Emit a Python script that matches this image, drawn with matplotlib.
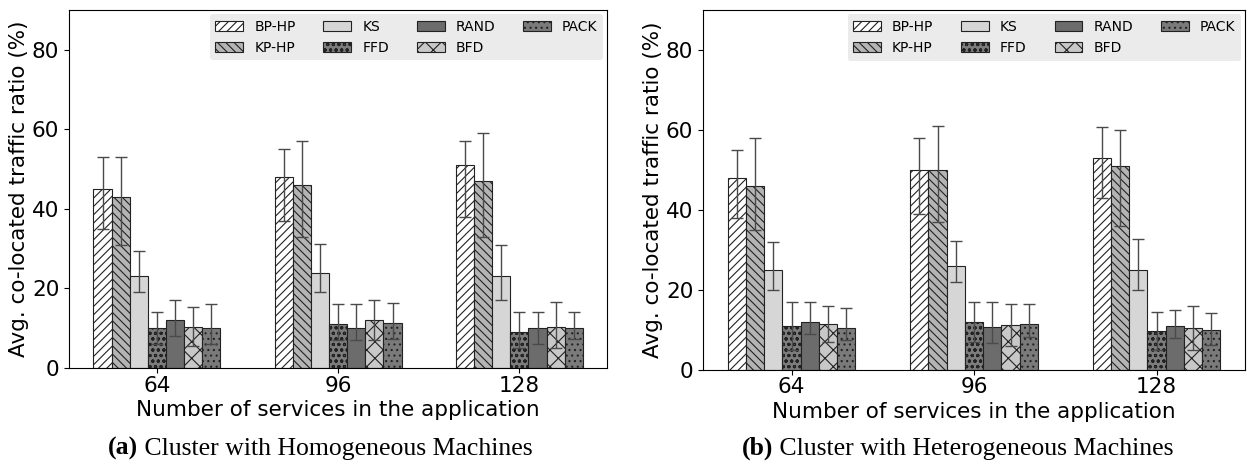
import numpy as np
import matplotlib
matplotlib.use('Agg')
import matplotlib.pyplot as plt
from matplotlib.patches import Patch

# dati
groups = ['64', '96', '128']
methods = ['BP-HP', 'KP-HP', 'KS', 'FFD', 'RAND', 'BFD', 'PACK']

# (a) macchine omogenee: valore medio, estremi inferiore/superiore delle barre d'errore
homo_mean = {
    'BP-HP': [45, 48, 51],
    'KP-HP': [43, 46, 47],
    'KS': [23, 24, 23],
    'FFD': [10, 11, 9],
    'RAND': [12, 10, 10],
    'BFD': [10.3, 12, 10.4],
    'PACK': [10.1, 11.2, 10.1],
}
homo_low = {
    'BP-HP': [35, 37, 38],
    'KP-HP': [31, 33, 33],
    'KS': [19, 19, 17],
    'FFD': [6, 7, 5],
    'RAND': [8, 7, 6],
    'BFD': [5.5, 7, 5],
    'PACK': [6, 7.2, 7.2],
}
homo_high = {
    'BP-HP': [53, 55, 57],
    'KP-HP': [53, 57, 59],
    'KS': [29.3, 31.2, 31],
    'FFD': [14, 16, 14],
    'RAND': [17, 16, 14],
    'BFD': [15.3, 17, 16.5],
    'PACK': [16, 16.3, 14.2],
}

# (b) macchine eterogenee
hetero_mean = {
    'BP-HP': [48, 50, 53],
    'KP-HP': [46, 50, 51],
    'KS': [25, 26, 25],
    'FFD': [11, 12, 9.8],
    'RAND': [12, 10.8, 10.9],
    'BFD': [11.5, 11.2, 10.4],
    'PACK': [10.5, 11.4, 10],
}
hetero_low = {
    'BP-HP': [38, 39, 43],
    'KP-HP': [35, 37, 36],
    'KS': [20, 22, 20],
    'FFD': [5, 7, 5],
    'RAND': [9, 6.8, 7.9],
    'BFD': [7, 6, 5],
    'PACK': [7.5, 8.2, 6.3],
}
hetero_high = {
    'BP-HP': [55, 58, 60.7],
    'KP-HP': [58, 61, 60],
    'KS': [32, 32.3, 32.8],
    'FFD': [17, 17, 14.5],
    'RAND': [17, 17, 15],
    'BFD': [16, 16.5, 16],
    'PACK': [15.5, 16.5, 14.3],
}

STYLE = {
    'BP-HP': ('white', '////'),
    'KP-HP': ('#b4b4b4', '\\\\\\\\'),
    'KS': ('#d6d6d6', ''),
    'FFD': ('#7c7c7c', 'ooo'),
    'RAND': ('#6c6c6c', ''),
    'BFD': ('#c8c8c8', 'xx'),
    'PACK': ('#7a7a7a', '...'),
}

plt.rcParams['hatch.linewidth'] = 0.8
plt.rcParams['font.family'] = 'DejaVu Sans'
FS = 15.5


def draw_panel(ax, mean, low, high):
    x = np.arange(len(groups))
    w = 0.1
    for k, m in enumerate(methods):
        v = np.array(mean[m], dtype=float)
        lo = np.array(low[m], dtype=float)
        hi = np.array(high[m], dtype=float)
        color, hatch = STYLE[m]
        pos = x + (k - 3) * w
        ax.bar(pos, v, w, color=color, hatch=hatch, edgecolor='#222222',
               linewidth=0.8, label=m)
        ax.errorbar(pos, v, yerr=[v - lo, hi - v], fmt='none',
                    ecolor='#4a4a4a', elinewidth=1.0, capsize=4, capthick=1.0)
    ax.set_xticks(x)
    ax.set_xticklabels(groups, fontsize=FS)
    ax.set_ylim(0, 90)
    ax.set_yticks([0, 20, 40, 60, 80])
    ax.tick_params(axis='y', labelsize=FS)
    ax.tick_params(axis='x', pad=2)
    ax.set_xlabel('Number of services in the application', fontsize=FS, labelpad=3)
    ax.set_ylabel('Avg. co-located traffic ratio (%)', fontsize=FS, labelpad=2)
    handles = [Patch(facecolor=STYLE[m][0], hatch=STYLE[m][1], edgecolor='#222222',
                     linewidth=0.8, label=m) for m in methods]
    leg = ax.legend(handles=handles, ncol=4, loc='upper right', fontsize=10,
                    handlelength=2.0, handleheight=0.7, columnspacing=2.0,
                    handletextpad=0.8, frameon=True, borderaxespad=0.3)
    leg.get_frame().set_facecolor('#ebebeb')
    leg.get_frame().set_edgecolor('none')
    leg.get_frame().set_alpha(1.0)


fig = plt.figure(figsize=(12.52, 4.68), dpi=100)
ax1 = fig.add_axes([0.0551, 0.2137, 0.430, 0.765])
ax2 = fig.add_axes([0.5615, 0.2100, 0.433, 0.768])

draw_panel(ax1, homo_mean, homo_low, homo_high)
draw_panel(ax2, hetero_mean, hetero_low, hetero_high)

# didascalie: "(a)" in grassetto, resto normale
serif = ['Liberation Serif', 'DejaVu Serif']
fig.canvas.draw()
r = fig.canvas.get_renderer()
for xc, tag, txt in [(0.256, '(a)', ' Cluster with Homogeneous Machines'),
                     (0.765, '(b)', ' Cluster with Heterogeneous Machines')]:
    t1 = fig.text(xc, 0.028, tag, fontsize=18.5, family=serif, weight='bold',
                  ha='left')
    t2 = fig.text(xc, 0.028, txt, fontsize=18.5, family=serif, ha='left')
    b1 = t1.get_window_extent(r)
    b2 = t2.get_window_extent(r)
    total = (b1.width + b2.width) / fig.bbox.width
    start = xc - total / 2
    t1.set_x(start)
    t2.set_x(start + b1.width / fig.bbox.width)

fig.savefig('out.png', dpi=100)
